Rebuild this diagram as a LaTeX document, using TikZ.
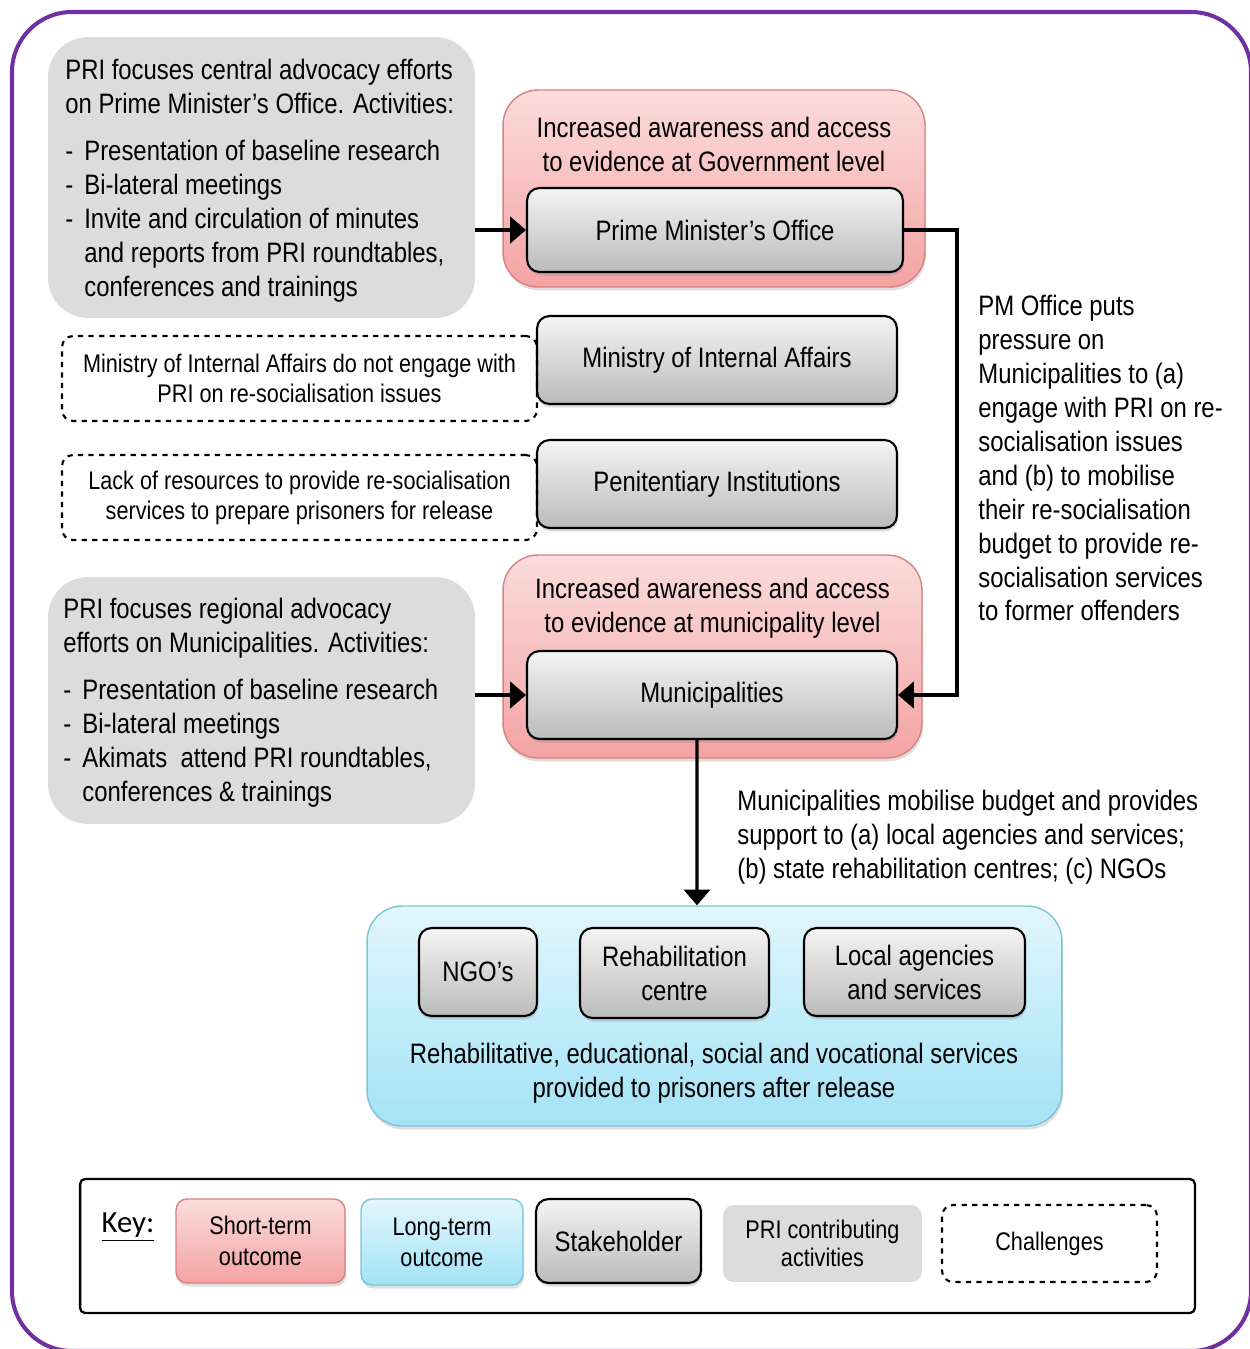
\documentclass[tikz,border=0pt]{standalone}
\usepackage{fontspec}
\setmainfont{Liberation Sans}[FakeStretch=0.85]
\newfontfamily\keyfont{Carlito}
\usetikzlibrary{arrows.meta,shadows}

\definecolor{framepurple}{HTML}{7030A0}
\definecolor{redtop}{HTML}{FBDCDC}
\definecolor{redbot}{HTML}{F4A3A3}
\definecolor{redline}{HTML}{D98080}
\definecolor{bluetop}{HTML}{E2F6FD}
\definecolor{bluebot}{HTML}{A3E3F6}
\definecolor{blueline}{HTML}{7CC3D8}
\definecolor{stktop}{HTML}{F4F4F4}
\definecolor{stkbot}{HTML}{BBBBBB}
\definecolor{prigray}{HTML}{DCDCDC}

\newcommand\dashmark{\makebox[0.38cm][l]{-}}
\newcommand\dashgap{\hspace*{0.38cm}}

\tikzset{
  txt/.style={font=\fontsize{16}{19.3}\selectfont},
  smalltxt/.style={font=\fontsize{14.5}{17}\selectfont},
  keytxt/.style={font=\fontsize{14.5}{17.5}\selectfont},
  soft/.style={drop shadow={opacity=0.25,shadow xshift=0.6pt,shadow yshift=-2pt}},
  shortout/.style={draw=redline, line width=0.8pt, rounded corners=0.7cm, top color=redtop, bottom color=redbot, soft},
  longout/.style={draw=blueline, line width=0.8pt, rounded corners=0.7cm, top color=bluetop, bottom color=bluebot, soft},
  stakebox/.style={draw=black, line width=1.2pt, rounded corners=0.25cm, top color=stktop, bottom color=stkbot, soft, align=center, txt},
  activity/.style={fill=prigray, rounded corners=0.8cm},
  acttxt/.style={anchor=north west, inner sep=0pt, align=left, txt},
  challenge/.style={draw=black, dashed, line width=1.2pt, rounded corners=0.22cm, align=center, smalltxt},
  conn/.style={line width=1.8pt, -{Triangle[length=9pt,width=15pt]}},
}

\begin{document}
\begin{tikzpicture}[x=0.02cm,y=-0.02cm]
\useasboundingbox (0,0) rectangle (1250,1349);
\draw[framepurple, line width=2.3pt, rounded corners=1.2cm] (12,12) rectangle (1251,1351);

% PRI activities, central level
\node (pri1) at (261.5,177.5) [activity, minimum width=8.54cm, minimum height=5.62cm] {};
\node (pri1txt) at (65,59) [acttxt]
 {PRI focuses central advocacy efforts\\ on Prime Minister’s Office. Activities:\\[0.26cm]
  \dashmark Presentation of baseline research\\ \dashmark Bi-lateral meetings\\
  \dashmark Invite and circulation of minutes\\ \dashgap and reports from PRI roundtables,\\
  \dashgap conferences and trainings};

% short-term outcome, government
\node (gov) at (714,188.5) [shortout, minimum width=8.44cm, minimum height=3.94cm] {};
\node (govtxt) at (714,144) [txt, align=center] {Increased awareness and access\\ to evidence at Government level};
\node (pmo) at (715,230) [stakebox, minimum width=7.52cm, minimum height=1.68cm] {Prime Minister’s Office};

% other stakeholders and challenges
\node (mia) at (717,360) [stakebox, minimum width=7.2cm, minimum height=1.76cm] {Ministry of Internal Affairs};
\node (pen) at (717,484) [stakebox, minimum width=7.2cm, minimum height=1.76cm] {Penitentiary Institutions};
\node (chal1) at (299.5,378.5) [challenge, minimum width=9.5cm, minimum height=1.7cm]
 {Ministry of Internal Affairs do not engage with\\ PRI on re-socialisation issues};
\node (chal2) at (299.5,497.5) [challenge, minimum width=9.5cm, minimum height=1.7cm]
 {Lack of resources to provide re-socialisation\\ services to prepare prisoners for release};

% short-term outcome, municipalities
\node (munout) at (712.5,656.5) [shortout, minimum width=8.38cm, minimum height=4.06cm] {};
\node (muntxt) at (712.5,608) [txt, align=center] {Increased awareness and access\\ to evidence at municipality level};
\node (mun) at (712,695) [stakebox, minimum width=7.4cm, minimum height=1.76cm] {Municipalities};

% PRI activities, regional level
\node (pri2) at (261.5,700.5) [activity, minimum width=8.54cm, minimum height=4.94cm] {};
\node (pri2txt) at (63,598) [acttxt]
 {PRI focuses regional advocacy\\ efforts on Municipalities. Activities:\\[0.26cm]
  \dashmark Presentation of baseline research\\ \dashmark Bi-lateral meetings\\
  \dashmark Akimats\ \ attend PRI roundtables,\\ \dashgap conferences \& trainings};

% long-term outcome
\node (svc) at (714.5,1016) [longout, minimum width=13.9cm, minimum height=4.4cm] {};
\node (ngo) at (478,972) [stakebox, minimum width=2.36cm, minimum height=1.76cm] {NGO’s};
\node (rehab) at (674.5,973) [stakebox, minimum width=3.78cm, minimum height=1.8cm] {Rehabilitation\\ centre};
\node (local) at (914.5,972) [stakebox, minimum width=4.42cm, minimum height=1.76cm] {Local agencies\\ and services};
\node (svctxt) at (714,1073) [txt, align=center] {Rehabilitative, educational, social and vocational services\\ provided to prisoners after release};

% connectors
\draw[conn] (pri1.east |- pmo.west) -- (pmo.west);
\draw[conn] (pri2.east |- mun.west) -- (mun.west);
\coordinate (bend) at (957,230);
\draw[conn] (pmo.east) -- (bend) |- (mun.east);
\draw[conn] ([xshift=-0.3cm]mun.south) -- ([xshift=-0.35cm]svc.north);

\node (pmnote) at (978,295) [anchor=north west, inner sep=0pt, txt, align=left]
 {PM Office puts\\ pressure on\\ Municipalities to (a)\\ engage with PRI on re-\\ socialisation issues\\
  and (b) to mobilise\\ their re-socialisation\\ budget to provide re-\\ socialisation services\\ to former offenders};
\node (munnote) at (737,790) [anchor=north west, inner sep=0pt, txt, align=left]
 {Municipalities mobilise budget and provides\\ support to (a) local agencies and services;\\ (b) state rehabilitation centres; (c) NGOs};

% key
\node (keybox) at (637.5,1246) [draw, line width=1.3pt, rounded corners=0.1cm, minimum width=22.3cm, minimum height=2.68cm] {};
\node (keylbl) at (128,1227) [font=\keyfont\fontsize{17.5}{20}\selectfont] {\underline{Key:}};
\node (kshort) at (260.5,1241) [shortout, rounded corners=0.22cm, minimum width=3.38cm, minimum height=1.68cm, keytxt, align=center] {Short-term\\ outcome};
\node (klong) at (442,1242) [longout, rounded corners=0.22cm, minimum width=3.24cm, minimum height=1.72cm, keytxt, align=center] {Long-term\\ outcome};
\node (kstake) at (618.5,1241) [stakebox, minimum width=3.3cm, minimum height=1.68cm] {Stakeholder};
\node (kpri) at (822.5,1243.5) [fill=prigray, rounded corners=0.22cm, minimum width=3.98cm, minimum height=1.54cm, keytxt, align=center, font=\fontsize{14.5}{16}\selectfont] {PRI contributing\\ activities};
\node (kchal) at (1049.5,1243.5) [challenge, minimum width=4.3cm, minimum height=1.54cm] {Challenges};
\end{tikzpicture}
\end{document}
